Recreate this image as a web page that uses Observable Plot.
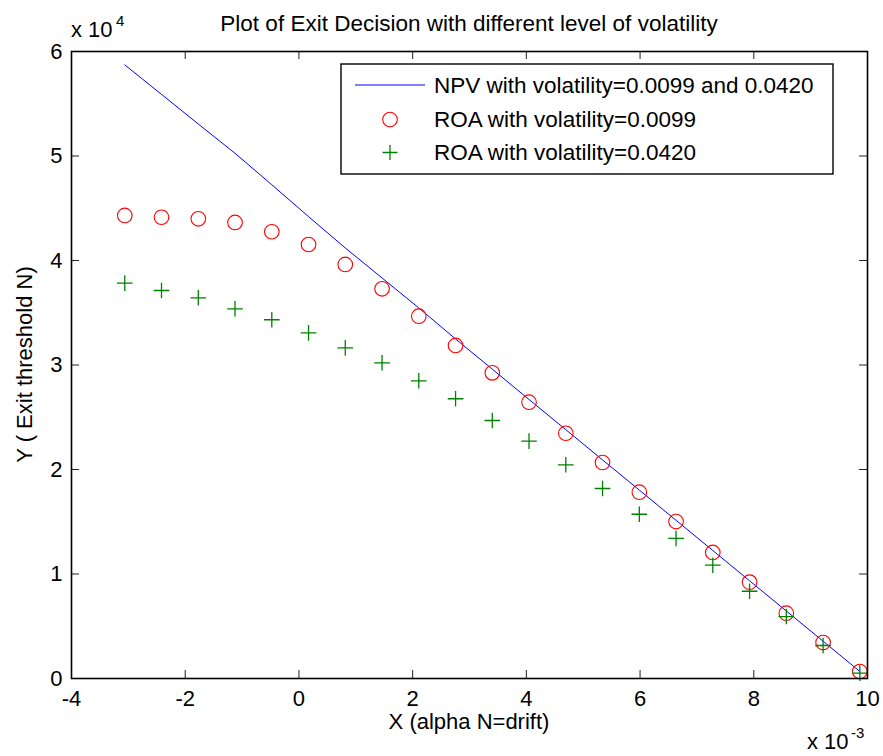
<!DOCTYPE html>
<html>
<head>
<meta charset="utf-8">
<script src="https://cdn.jsdelivr.net/npm/d3@7"></script>
<script src="https://cdn.jsdelivr.net/npm/@observablehq/plot@0.6"></script>
<style>
  html, body { margin: 0; padding: 0; background: #fff; }
  svg { display: block; }
</style>
</head>
<body>
<div id="chart"></div>
<script>
// ---- data ----
// drift alpha N (axis shows x 10^-3)
const drift = [-0.003063, -0.002417, -0.001770, -0.001124, -0.000477, 0.000169, 0.000815,
  0.001462, 0.002108, 0.002755, 0.003401, 0.004047, 0.004694, 0.005340, 0.005987,
  0.006633, 0.007279, 0.007926, 0.008572, 0.009219, 0.009865];
// NPV exit threshold (both volatilities)
const npv = [58720, 55900, 53060, 50260, 47250, 44200, 41200, 38330, 35460, 32490, 29600,
  26700, 23810, 20920, 18030, 15140, 12250, 9350, 6460, 3570, 670];
// ROA exit threshold, volatility = 0.0099
const roaLow = [44310, 44140, 43990, 43640, 42750, 41530, 39620, 37290, 34670, 31870, 29250,
  26440, 23470, 20670, 17830, 15020, 12060, 9220, 6250, 3440, 670];
// ROA exit threshold, volatility = 0.0420
const roaHigh = [37830, 37130, 36430, 35380, 34330, 33080, 31640, 30210, 28490, 26770, 24690,
  22710, 20450, 18180, 15720, 13400, 10840, 8350, 5930, 3160, 510];

const xTicks = [-0.004, -0.002, 0, 0.002, 0.004, 0.006, 0.008, 0.010];
const yTicks = [0, 10000, 20000, 30000, 40000, 50000, 60000];

const titleText = "Plot of Exit Decision with different level of volatility";
const xLabel = "X (alpha N=drift)";
const yLabel = "Y ( Exit threshold N)";
const legendLabels = ["NPV with volatility=0.0099 and 0.0420", "ROA with volatility=0.0099", "ROA with volatility=0.0420"];

const npvData = drift.map((x, i) => ({x, y: npv[i]}));
const lowData = drift.map((x, i) => ({x, y: roaLow[i]}));
const highData = drift.map((x, i) => ({x, y: roaHigh[i]}));

const FONT = "'Liberation Sans', Arial, Helvetica, sans-serif";
const W = 883, H = 756, ML = 71, MR = 16, MT = 51, MB = 78;
const frameW = W - ML - MR, frameH = H - MT - MB;
const TICK = 8;

const plot = Plot.plot({
  width: W, height: H,
  marginLeft: ML, marginRight: MR, marginTop: MT, marginBottom: MB,
  style: {fontFamily: FONT, fontSize: "22px", background: "#fff", color: "#000"},
  x: {domain: [-0.004, 0.010]},
  y: {domain: [0, 60000]},
  marks: [
    Plot.axisX(xTicks, {tickSize: 0, tickPadding: 12, fontSize: 22, label: null,
      tickFormat: d => String(Math.round(d * 1000))}),
    Plot.axisY(yTicks, {tickSize: 0, tickPadding: 9, fontSize: 22, label: null,
      tickFormat: d => String(Math.round(d / 10000))}),
    Plot.ruleX(xTicks, {x: d => d, insetTop: frameH - TICK, stroke: "#222", strokeWidth: 1}),
    Plot.ruleX(xTicks, {x: d => d, insetBottom: frameH - TICK, stroke: "#222", strokeWidth: 1}),
    Plot.ruleY(yTicks, {y: d => d, insetRight: frameW - TICK, stroke: "#222", strokeWidth: 1}),
    Plot.ruleY(yTicks, {y: d => d, insetLeft: frameW - TICK, stroke: "#222", strokeWidth: 1}),
    Plot.line(npvData, {x: "x", y: "y", stroke: "#0000ff", strokeWidth: 1}),
    Plot.dot(lowData, {x: "x", y: "y", r: 7.3, stroke: "#ff0000", fill: "none", strokeWidth: 1.1}),
    Plot.dot(highData, {x: "x", y: "y", symbol: "plus", r: 5.1, stroke: "#008000", strokeWidth: 1.3}),
    Plot.frame({stroke: "#000", strokeWidth: 1.6})
  ]
});

document.getElementById("chart").appendChild(plot);

const svg = d3.select(plot);
const txt = (x, y, s, size, anchor = "start") => svg.append("text")
  .attr("x", x).attr("y", y).attr("font-family", FONT).attr("font-size", size)
  .attr("text-anchor", anchor).attr("fill", "#000").text(s);

// title and axis labels
txt(ML + frameW / 2, 31, titleText, 22.5, "middle");
txt(ML + frameW / 2, 729, xLabel, 22, "middle");
svg.append("text").attr("transform", `translate(32,${MT + frameH / 2}) rotate(-90)`)
  .attr("font-family", FONT).attr("font-size", 22).attr("text-anchor", "middle").text(yLabel);

// exponent annotations
txt(71, 37, "x 10", 22);
txt(116, 26, "4", 15);
txt(807, 749, "x 10", 22);
txt(851, 738, "-3", 15);

// legend
const lg = svg.append("g");
lg.append("rect").attr("x", 341).attr("y", 64).attr("width", 492).attr("height", 110)
  .attr("fill", "#fff").attr("stroke", "#000").attr("stroke-width", 1.4);
lg.append("line").attr("x1", 355).attr("x2", 425).attr("y1", 85).attr("y2", 85)
  .attr("stroke", "#0000ff").attr("stroke-width", 1);
lg.append("circle").attr("cx", 390).attr("cy", 119.5).attr("r", 7.3)
  .attr("fill", "none").attr("stroke", "#ff0000").attr("stroke-width", 1.1);
lg.append("path").attr("d", "M382.5,152.5H397.5M390,145V160")
  .attr("stroke", "#008000").attr("stroke-width", 1.3).attr("fill", "none");
[93, 127, 160].forEach((y, i) => {
  txt(434, y, legendLabels[i], 22.5, "start");
});
</script>
</body>
</html>
